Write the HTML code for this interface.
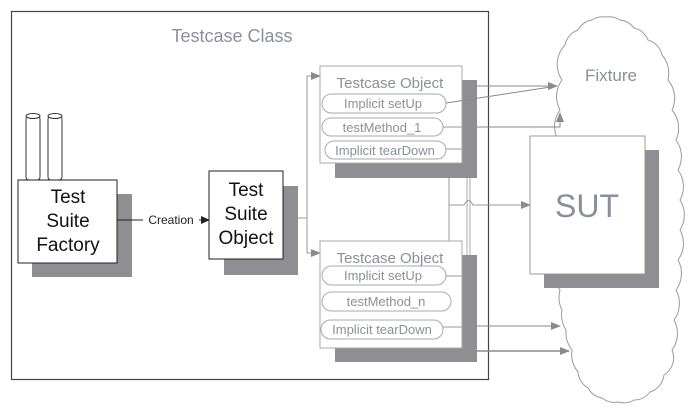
<!DOCTYPE html>
<html><head><meta charset="utf-8"><style>
html,body{margin:0;padding:0;background:#fff;}
svg{display:block;font-family:"Liberation Sans",sans-serif;}
</style></head><body>
<svg width="691" height="409" viewBox="0 0 691 409" xmlns="http://www.w3.org/2000/svg">
<defs>
<marker id="ag" markerWidth="10" markerHeight="8" refX="9" refY="4" orient="auto" markerUnits="userSpaceOnUse"><path d="M0,0 L10,4 L0,8 z" fill="#8a8a8e"/></marker>
<marker id="ab" markerWidth="9" markerHeight="8" refX="8" refY="4" orient="auto" markerUnits="userSpaceOnUse"><path d="M0,0 L9,4 L0,8 z" fill="#222"/></marker>
</defs>
<!-- cloud -->
<path d="M565,45 A20,20 0 0 1 578,30 A20,20 0 0 1 592,20 A20,20 0 0 1 606,17 A20,20 0 0 1 620,20 A20,20 0 0 1 634,28 A20,20 0 0 1 648,40 A20,20 0 0 1 662,55 A28,28 0 0 1 668,80 A28,28 0 0 1 672,110 A28,28 0 0 1 676,140 A28,28 0 0 1 678,170 A28,28 0 0 1 680,200 A28,28 0 0 1 680,230 A28,28 0 0 1 678,260 A28,28 0 0 1 676,290 A28,28 0 0 1 674,320 A28,28 0 0 1 672,350 A20,20 0 0 1 664,375 A20,20 0 0 1 650,392 A20,20 0 0 1 634,400 A20,20 0 0 1 618,402 A20,20 0 0 1 602,398 A20,20 0 0 1 588,388 A20,20 0 0 1 578,372 A28,28 0 0 1 572,350 A28,28 0 0 1 566,330 A28,28 0 0 1 562,310 A28,28 0 0 1 560,290 A28,28 0 0 1 558,260 A28,28 0 0 1 556,230 A28,28 0 0 1 556,200 A28,28 0 0 1 556,170 A28,28 0 0 1 558,140 A28,28 0 0 1 560,110 A28,28 0 0 1 562,80 A28,28 0 0 1 565,45 Z" fill="#fff" stroke="#9a9a9e" stroke-width="1"/>
<text x="611" y="81" font-size="17" fill="#8a8f9a" text-anchor="middle">Fixture</text>
<!-- SUT -->
<rect x="544" y="150" width="115" height="138" fill="#8f8f93"/>
<rect x="530" y="136" width="115" height="138" fill="#fff" stroke="#999" stroke-width="1"/>
<text x="587" y="217" font-size="32" fill="#8a8f9a" text-anchor="middle">SUT</text>
<!-- outer class box -->
<rect x="11.5" y="11.5" width="477" height="368" fill="none" stroke="#444" stroke-width="1.2"/>
<text x="232" y="42" font-size="18" fill="#8a8f9a" text-anchor="middle">Testcase Class</text>
<!-- factory -->
<rect x="26" y="116" width="14" height="64" rx="3" fill="#fff" stroke="#333"/>
<ellipse cx="33" cy="116" rx="7" ry="2.5" fill="#fff" stroke="#333"/>
<rect x="48" y="116" width="14" height="64" rx="3" fill="#fff" stroke="#333"/>
<ellipse cx="55" cy="116" rx="7" ry="2.5" fill="#fff" stroke="#333"/>
<rect x="32" y="194" width="100" height="83" fill="#8f8f93"/>
<rect x="18" y="180" width="99" height="83" fill="#fff" stroke="#222"/>
<text font-size="19" fill="#111" text-anchor="middle"><tspan x="68" y="203">Test</tspan><tspan x="68" y="227">Suite</tspan><tspan x="68" y="251">Factory</tspan></text>
<!-- creation -->
<line x1="117" y1="220" x2="143" y2="220" stroke="#222"/>
<text x="171" y="224" font-size="12" fill="#222" text-anchor="middle">Creation</text>
<line x1="199" y1="220" x2="209" y2="220" stroke="#222" marker-end="url(#ab)"/>
<!-- suite object -->
<rect x="224" y="186" width="74" height="89" fill="#8f8f93"/>
<rect x="209" y="171" width="74" height="88" fill="#fff" stroke="#222"/>
<text font-size="19" fill="#111" text-anchor="middle"><tspan x="246" y="196">Test</tspan><tspan x="246" y="220">Suite</tspan><tspan x="246" y="244">Object</tspan></text>
<path d="M298,218 H307 V76 H320" fill="none" stroke="#999" marker-end="url(#ag)"/>
<path d="M307,218 V253 H320" fill="none" stroke="#999" marker-end="url(#ag)"/>
<!-- connectors vertical -->
<line x1="449" y1="126" x2="449" y2="241" stroke="#999"/>
<line x1="467" y1="178" x2="467" y2="255" stroke="#aaa"/>
<line x1="470" y1="178" x2="470" y2="255" stroke="#aaa"/>
<path d="M449,205 H464 q4.5,-9 9,0 H530" fill="none" stroke="#999" marker-end="url(#ag)"/>
<!-- TC object 1 -->
<rect x="335" y="80" width="142" height="98" fill="#8f8f93"/>
<rect x="320" y="66" width="142" height="97" fill="#fff" stroke="#aaa"/>
<text x="390" y="88" font-size="15" fill="#8a8f9a" text-anchor="middle">Testcase Object</text>
<rect x="322" y="94" width="124" height="19" rx="9.5" fill="#fff" stroke="#aaa"/>
<text x="383" y="108" font-size="13" fill="#8a8f9a" text-anchor="middle">Implicit setUp</text>
<rect x="322" y="118" width="121" height="18" rx="9" fill="#fff" stroke="#aaa"/>
<text x="382" y="132" font-size="13" fill="#8a8f9a" text-anchor="middle">testMethod_1</text>
<rect x="325" y="141" width="121" height="18" rx="9" fill="#fff" stroke="#aaa"/>
<text x="385" y="155" font-size="13" fill="#8a8f9a" text-anchor="middle">Implicit tearDown</text>
<line x1="446" y1="149" x2="462" y2="149" stroke="#999"/>
<line x1="443" y1="127" x2="462" y2="127" stroke="#999"/>
<!-- TC object 2 -->
<rect x="335" y="255" width="142" height="107" fill="#8f8f93"/>
<rect x="320" y="241" width="142" height="107" fill="#fff" stroke="#aaa"/>
<text x="390" y="263" font-size="15" fill="#8a8f9a" text-anchor="middle">Testcase Object</text>
<rect x="322" y="266" width="124" height="19" rx="9.5" fill="#fff" stroke="#aaa"/>
<text x="383" y="280" font-size="13" fill="#8a8f9a" text-anchor="middle">Implicit setUp</text>
<rect x="322" y="292" width="129" height="19" rx="9.5" fill="#fff" stroke="#aaa"/>
<text x="386" y="306" font-size="13" fill="#8a8f9a" text-anchor="middle">testMethod_n</text>
<rect x="321" y="320" width="122" height="19" rx="9.5" fill="#fff" stroke="#aaa"/>
<text x="382" y="334" font-size="13" fill="#8a8f9a" text-anchor="middle">Implicit tearDown</text>
<line x1="446" y1="276" x2="462" y2="276" stroke="#999"/>
<line x1="443" y1="327" x2="462" y2="327" stroke="#999"/>
<!-- arrows to fixture -->
<line x1="477" y1="86" x2="557" y2="86" stroke="#8a8a8e" marker-end="url(#ag)"/>
<line x1="446" y1="103" x2="557" y2="86" stroke="#8a8a8e"/>
<path d="M477,127 H560 V113" fill="none" stroke="#8a8a8e" marker-end="url(#ag)"/>
<line x1="477" y1="326" x2="560" y2="326" stroke="#8a8a8e" marker-end="url(#ag)"/>
<line x1="477" y1="351" x2="569" y2="351" stroke="#8a8a8e" stroke-width="1.5" marker-end="url(#ag)"/>
</svg>
</body></html>
